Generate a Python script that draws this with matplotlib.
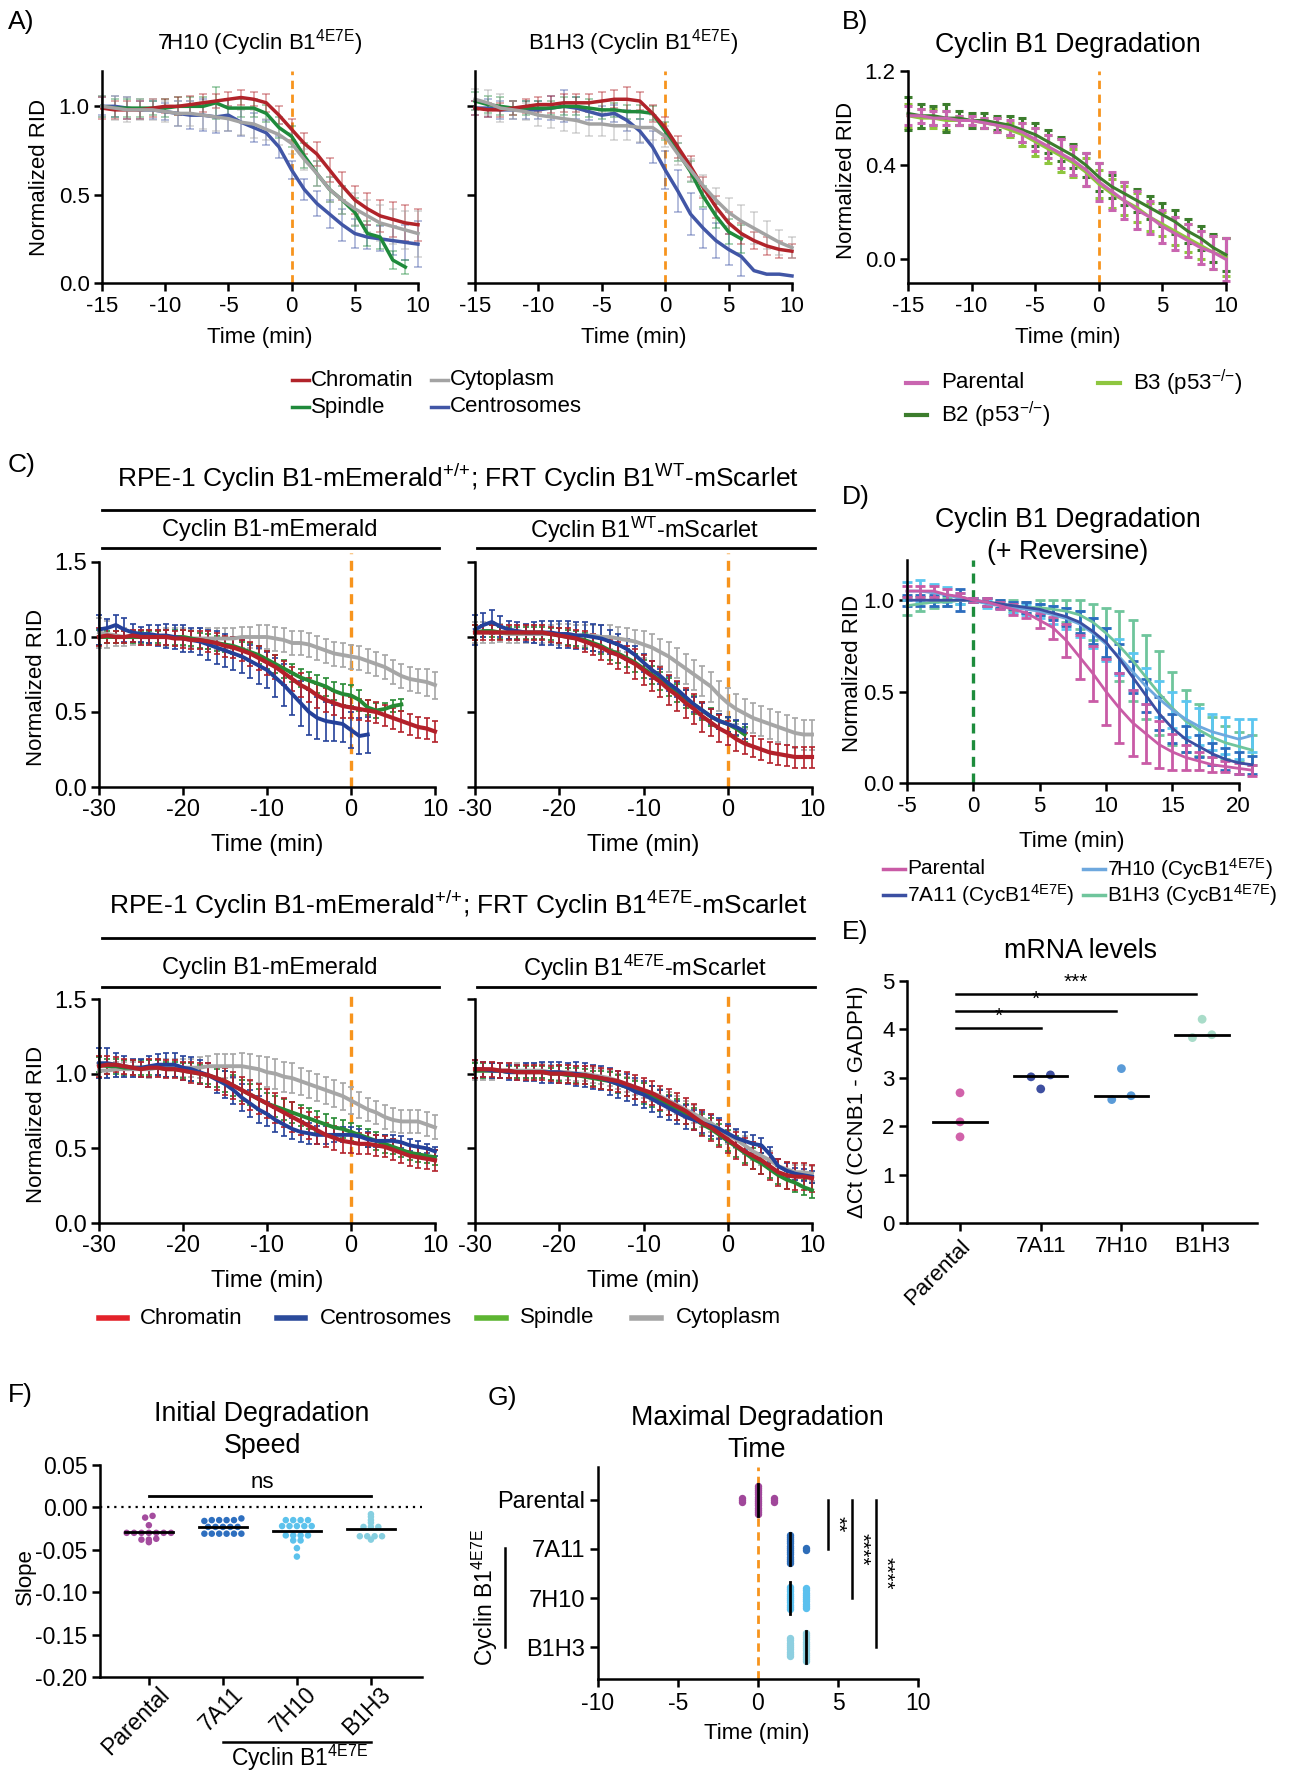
import numpy as np
import matplotlib
matplotlib.use("Agg")
import matplotlib.pyplot as plt
import matplotlib.transforms as mtransforms
from matplotlib.lines import Line2D
from matplotlib import font_manager

nan = np.nan

# ---------------- data ----------------
# A) relative intensity per location, 1 min steps from -15 to 10
tA = np.arange(-15, 11)
a7h10_chrom = [0.99, 0.98, 0.98, 0.98, 0.99, 1.00, 1.00, 1.01, 1.02, 1.03,
               1.04, 1.05, 1.04, 1.02, 0.95, 0.87, 0.79, 0.73, 0.64, 0.55,
               0.47, 0.42, 0.38, 0.36, 0.34, 0.33]
a7h10_spin = [1.00, 0.99, 0.99, 0.99, 0.99, 0.99, 1.00, 1.00, 1.00, 1.02,
              0.99, 0.99, 0.99, 0.96, 0.88, 0.83, 0.72, 0.62, 0.53, 0.47,
              0.40, 0.28, 0.26, 0.13, 0.09, nan]
a7h10_cyto = [1.00, 0.99, 0.98, 0.98, 0.98, 0.97, 0.96, 0.96, 0.95, 0.94,
              0.93, 0.91, 0.90, 0.87, 0.84, 0.79, 0.70, 0.62, 0.53, 0.47,
              0.42, 0.38, 0.34, 0.32, 0.30, 0.28]
a7h10_cent = [1.00, 1.00, 0.99, 0.98, 0.98, 0.97, 0.96, 0.95, 0.95, 0.94,
              0.95, 0.91, 0.88, 0.85, 0.77, 0.64, 0.53, 0.45, 0.39, 0.33,
              0.28, 0.26, 0.25, 0.24, 0.23, 0.22]
a7h10_chrom_e = [0.06, 0.05, 0.05, 0.05, 0.05, 0.04, 0.05, 0.05, 0.05, 0.04,
                 0.04, 0.04, 0.04, 0.05, 0.05, 0.06, 0.06, 0.07, 0.07, 0.08,
                 0.08, 0.09, 0.09, 0.10, 0.10, 0.09]
a7h10_spin_e = [0.06, 0.05, 0.05, 0.05, 0.04, 0.05, 0.05, 0.05, 0.05, 0.09,
                0.05, 0.05, 0.05, 0.05, 0.06, 0.06, 0.07, 0.07, 0.07, 0.08,
                0.08, 0.07, 0.07, 0.05, 0.04, nan]
a7h10_cyto_e = [0.06, 0.07, 0.07, 0.06, 0.06, 0.06, 0.07, 0.07, 0.08, 0.08,
                0.07, 0.07, 0.08, 0.06, 0.06, 0.06, 0.06, 0.07, 0.07, 0.08,
                0.09, 0.09, 0.10, 0.10, 0.11, 0.13]
a7h10_cent_e = [0.05, 0.06, 0.06, 0.05, 0.05, 0.05, 0.07, 0.08, 0.09, 0.09,
                0.09, 0.08, 0.08, 0.07, 0.06, 0.05, 0.06, 0.07, 0.08, 0.09,
                0.08, 0.07, 0.07, 0.08, 0.10, 0.13]

ab1h3_chrom = [0.99, 0.98, 0.98, 0.99, 1.00, 1.01, 1.01, 1.02, 1.02, 1.02,
               1.03, 1.04, 1.04, 1.03, 0.96, 0.88, 0.77, 0.66, 0.54, 0.43,
               0.34, 0.28, 0.24, 0.21, 0.19, 0.18]
ab1h3_spin = [1.03, 1.01, 1.00, 0.99, 0.99, 0.99, 0.99, 1.00, 1.00, 0.99,
              0.98, 0.98, 0.97, 0.97, 0.96, 0.86, 0.74, 0.63, 0.49, 0.38,
              0.29, 0.25, nan, nan, nan, nan]
ab1h3_cyto = [1.04, 1.02, 0.99, 0.98, 0.97, 0.95, 0.94, 0.93, 0.92, 0.90,
              0.90, 0.89, 0.89, 0.88, 0.88, 0.83, 0.73, 0.64, 0.55, 0.47,
              0.40, 0.35, 0.31, 0.27, 0.23, 0.20]
ab1h3_cent = [0.99, 0.99, 0.98, 0.98, 0.98, 0.98, 0.99, 1.00, 0.99, 0.97,
              0.95, 0.96, 0.92, 0.86, 0.77, 0.64, 0.52, 0.39, 0.31, 0.24,
              0.19, 0.15, 0.07, 0.05, 0.05, 0.04]
ab1h3_chrom_e = [0.04, 0.04, 0.04, 0.04, 0.04, 0.04, 0.05, 0.05, 0.05, 0.05,
                 0.05, 0.05, 0.07, 0.05, 0.05, 0.06, 0.06, 0.06, 0.06, 0.06,
                 0.06, 0.06, 0.05, 0.05, 0.05, 0.04]
ab1h3_spin_e = [0.05, 0.05, 0.05, 0.04, 0.04, 0.04, 0.04, 0.05, 0.05, 0.05,
                0.05, 0.04, 0.04, 0.04, 0.04, 0.05, 0.05, 0.06, 0.06, 0.07,
                0.07, 0.08, nan, nan, nan, nan]
ab1h3_cyto_e = [0.06, 0.07, 0.08, 0.05, 0.05, 0.06, 0.06, 0.07, 0.07, 0.07,
                0.07, 0.08, 0.08, 0.08, 0.07, 0.06, 0.06, 0.06, 0.06, 0.07,
                0.08, 0.09, 0.09, 0.08, 0.07, 0.06]
ab1h3_cent_e = [0.04, 0.05, 0.05, 0.05, 0.05, 0.05, 0.07, 0.09, 0.06, 0.05,
                0.05, 0.05, 0.06, 0.07, 0.09, 0.11, 0.12, 0.12, 0.11, 0.10,
                0.09, 0.11, nan, nan, nan, nan]

# B) whole-cell degradation, parental vs p53-/- clones
tB = np.arange(-15, 11)
b_parental = [0.61, 0.61, 0.60, 0.60, 0.59, 0.59, 0.58, 0.57, 0.56, 0.54,
              0.51, 0.48, 0.45, 0.42, 0.38, 0.33, 0.29, 0.25, 0.21, 0.18,
              0.14, 0.11, 0.08, 0.05, 0.03, 0.00]
b_b2 = [0.62, 0.61, 0.61, 0.60, 0.60, 0.59, 0.59, 0.58, 0.57, 0.55,
        0.53, 0.50, 0.47, 0.44, 0.40, 0.35, 0.31, 0.28, 0.25, 0.22,
        0.19, 0.16, 0.12, 0.09, 0.05, 0.02]
b_b3 = [0.61, 0.60, 0.60, 0.59, 0.59, 0.59, 0.58, 0.57, 0.55, 0.53,
        0.50, 0.47, 0.44, 0.41, 0.37, 0.32, 0.28, 0.25, 0.22, 0.18,
        0.15, 0.12, 0.09, 0.06, 0.03, 0.01]
b_parental_e = [0.04, 0.03, 0.03, 0.03, 0.02, 0.02, 0.02, 0.03, 0.03, 0.04,
                0.05, 0.05, 0.06, 0.06, 0.07, 0.08, 0.08, 0.08, 0.08, 0.07,
                0.07, 0.07, 0.07, 0.07, 0.07, 0.09]
b_b2_e = [0.07, 0.05, 0.04, 0.06, 0.03, 0.03, 0.03, 0.03, 0.04, 0.05,
          0.05, 0.05, 0.05, 0.05, 0.05, 0.06, 0.05, 0.05, 0.05, 0.05,
          0.05, 0.05, 0.05, 0.05, 0.06, 0.07]
b_b3_e = [0.05, 0.04, 0.04, 0.04, 0.02, 0.02, 0.02, 0.03, 0.03, 0.05,
          0.06, 0.06, 0.07, 0.06, 0.06, 0.06, 0.06, 0.06, 0.06, 0.06,
          0.05, 0.06, 0.06, 0.06, 0.07, 0.08]

# C) mEmerald / mScarlet reporters, 1 min steps from -30 to 10
tC = np.arange(-30, 11)
cwt_em_cyto = [1.03, 1.02, 1.01, 1.00, 1.00, 1.00, 1.00, 1.00, 1.00, 1.00,
               1.00, 0.99, 0.99, 0.99, 0.99, 0.99, 0.99, 1.00, 1.00, 1.00,
               1.00, 0.99, 0.98, 0.96, 0.96, 0.95, 0.93, 0.91, 0.89, 0.88,
               0.87, 0.86, 0.84, 0.82, 0.80, 0.77, 0.74, 0.72, 0.71, 0.70, 0.68]
cwt_em_chrom = [1.00, 1.01, 1.00, 1.00, 1.01, 1.00, 1.00, 1.00, 1.00, 0.99,
                0.99, 0.98, 0.98, 0.97, 0.96, 0.94, 0.93, 0.91, 0.89, 0.86,
                0.83, 0.80, 0.76, 0.72, 0.68, 0.65, 0.61, 0.58, 0.56, 0.54,
                0.53, 0.52, 0.51, 0.50, 0.48, 0.46, 0.44, 0.42, 0.40, 0.39, 0.37]
cwt_em_spin = [1.00, 1.00, 1.00, 1.00, 1.00, 1.00, 1.00, 1.00, 1.00, 1.00,
               1.00, 0.99, 0.98, 0.97, 0.96, 0.95, 0.94, 0.92, 0.90, 0.88,
               0.85, 0.82, 0.79, 0.76, 0.73, 0.71, 0.69, 0.67, 0.64, 0.62,
               0.61, 0.58, 0.53, 0.51, 0.52, 0.54, 0.55, nan, nan, nan, nan]
cwt_em_cent = [1.05, 1.06, 1.08, 1.05, 1.03, 1.02, 1.02, 1.01, 1.01, 1.00,
               0.99, 0.98, 0.97, 0.95, 0.93, 0.91, 0.89, 0.87, 0.84, 0.81,
               0.78, 0.73, 0.68, 0.62, 0.56, 0.50, 0.46, 0.44, 0.43, 0.42,
               0.38, 0.34, 0.35, nan, nan, nan, nan, nan, nan, nan, nan]
cwt_em_cyto_e = [0.10, 0.09, 0.07, 0.06, 0.05, 0.05, 0.05, 0.05, 0.06, 0.06,
                 0.06, 0.06, 0.07, 0.07, 0.07, 0.07, 0.07, 0.07, 0.07, 0.08,
                 0.08, 0.08, 0.08, 0.08, 0.08, 0.08, 0.08, 0.08, 0.08, 0.08,
                 0.08, 0.08, 0.08, 0.08, 0.08, 0.08, 0.08, 0.08, 0.08, 0.09, 0.09]
cwt_em_chrom_e = [0.06, 0.05, 0.04, 0.04, 0.04, 0.05, 0.05, 0.05, 0.05, 0.05,
                  0.06, 0.06, 0.06, 0.07, 0.07, 0.07, 0.07, 0.07, 0.08, 0.08,
                  0.08, 0.08, 0.08, 0.08, 0.08, 0.08, 0.08, 0.08, 0.08, 0.08,
                  0.07, 0.07, 0.07, 0.07, 0.07, 0.07, 0.07, 0.07, 0.07, 0.07, 0.07]
cwt_em_spin_e = [0.05, 0.04, 0.04, 0.04, 0.04, 0.04, 0.04, 0.04, 0.05, 0.05,
                 0.05, 0.05, 0.05, 0.05, 0.05, 0.05, 0.05, 0.05, 0.06, 0.06,
                 0.06, 0.06, 0.06, 0.06, 0.06, 0.06, 0.06, 0.06, 0.06, 0.07,
                 0.07, 0.07, 0.05, 0.05, 0.04, 0.04, 0.04, nan, nan, nan, nan]
cwt_em_cent_e = [0.10, 0.06, 0.07, 0.08, 0.06, 0.05, 0.06, 0.07, 0.08, 0.08,
                 0.09, 0.08, 0.09, 0.10, 0.11, 0.11, 0.11, 0.11, 0.11, 0.12,
                 0.12, 0.13, 0.14, 0.14, 0.15, 0.15, 0.14, 0.13, 0.12, 0.12,
                 0.12, 0.12, 0.12, nan, nan, nan, nan, nan, nan, nan, nan]

cwt_sc_cyto = [1.03, 1.03, 1.03, 1.03, 1.02, 1.02, 1.02, 1.02, 1.02, 1.02,
               1.02, 1.02, 1.01, 1.01, 1.01, 1.00, 1.00, 0.99, 0.98, 0.97,
               0.95, 0.93, 0.90, 0.87, 0.83, 0.79, 0.75, 0.71, 0.67, 0.61,
               0.56, 0.52, 0.49, 0.46, 0.44, 0.42, 0.40, 0.38, 0.36, 0.35, 0.35]
cwt_sc_chrom = [1.03, 1.03, 1.03, 1.03, 1.03, 1.03, 1.03, 1.03, 1.03, 1.02,
                1.01, 1.00, 0.99, 0.97, 0.95, 0.93, 0.90, 0.88, 0.85, 0.82,
                0.78, 0.74, 0.70, 0.65, 0.61, 0.56, 0.52, 0.47, 0.43, 0.39,
                0.36, 0.32, 0.29, 0.27, 0.25, 0.23, 0.22, 0.21, 0.20, 0.20, 0.20]
cwt_sc_spin = [1.03, 1.04, 1.04, 1.03, 1.03, 1.03, 1.03, 1.03, 1.03, 1.02,
               1.01, 1.00, 0.99, 0.98, 0.96, 0.94, 0.91, 0.89, 0.86, 0.83,
               0.79, 0.75, 0.71, 0.67, 0.63, 0.59, 0.55, 0.51, 0.47, 0.44,
               0.42, 0.39, 0.35, nan, nan, nan, nan, nan, nan, nan, nan]
cwt_sc_cent = [1.05, 1.08, 1.10, 1.07, 1.05, 1.04, 1.03, 1.03, 1.03, 1.03,
               1.02, 1.02, 1.01, 1.01, 1.00, 0.99, 0.97, 0.95, 0.92, 0.88,
               0.83, 0.78, 0.74, 0.69, 0.65, 0.60, 0.55, 0.51, 0.47, 0.44,
               0.42, 0.40, 0.37, nan, nan, nan, nan, nan, nan, nan, nan]
cwt_sc_cyto_e = [0.07, 0.07, 0.07, 0.06, 0.06, 0.06, 0.06, 0.06, 0.06, 0.06,
                 0.07, 0.07, 0.07, 0.07, 0.07, 0.08, 0.08, 0.08, 0.08, 0.08,
                 0.09, 0.09, 0.09, 0.10, 0.10, 0.10, 0.10, 0.10, 0.10, 0.10,
                 0.10, 0.10, 0.10, 0.10, 0.10, 0.10, 0.10, 0.10, 0.10, 0.10, 0.10]
cwt_sc_chrom_e = [0.05, 0.05, 0.05, 0.05, 0.05, 0.05, 0.05, 0.05, 0.05, 0.05,
                  0.05, 0.06, 0.06, 0.07, 0.07, 0.08, 0.08, 0.09, 0.09, 0.10,
                  0.10, 0.10, 0.10, 0.10, 0.10, 0.10, 0.10, 0.10, 0.09, 0.09,
                  0.08, 0.08, 0.07, 0.07, 0.07, 0.07, 0.07, 0.07, 0.07, 0.07, 0.07]
cwt_sc_spin_e = [0.05, 0.04, 0.04, 0.04, 0.04, 0.04, 0.04, 0.04, 0.04, 0.04,
                 0.05, 0.05, 0.05, 0.05, 0.05, 0.05, 0.06, 0.06, 0.06, 0.06,
                 0.06, 0.06, 0.06, 0.06, 0.06, 0.06, 0.06, 0.06, 0.06, 0.05,
                 0.05, 0.05, 0.05, nan, nan, nan, nan, nan, nan, nan, nan]
cwt_sc_cent_e = [0.10, 0.08, 0.08, 0.07, 0.06, 0.06, 0.06, 0.07, 0.08, 0.08,
                 0.09, 0.09, 0.09, 0.09, 0.09, 0.09, 0.08, 0.07, 0.07, 0.06,
                 0.06, 0.06, 0.05, 0.05, 0.05, 0.05, 0.05, 0.05, 0.05, 0.05,
                 0.05, 0.05, 0.05, nan, nan, nan, nan, nan, nan, nan, nan]

cmut_em_cyto = [1.02, 1.02, 1.03, 1.03, 1.03, 1.03, 1.03, 1.04, 1.04, 1.04,
                1.04, 1.04, 1.04, 1.05, 1.05, 1.05, 1.05, 1.05, 1.04, 1.03,
                1.01, 1.00, 0.98, 0.97, 0.95, 0.93, 0.91, 0.89, 0.87, 0.85,
                0.82, 0.79, 0.76, 0.74, 0.71, 0.69, 0.68, 0.68, 0.68, 0.66, 0.64]
cmut_em_chrom = [1.05, 1.06, 1.06, 1.05, 1.04, 1.03, 1.04, 1.04, 1.03, 1.03,
                 1.02, 1.01, 1.00, 0.99, 0.97, 0.95, 0.92, 0.89, 0.86, 0.83,
                 0.80, 0.77, 0.74, 0.71, 0.68, 0.65, 0.62, 0.59, 0.57, 0.55,
                 0.54, 0.53, 0.53, 0.52, 0.51, 0.49, 0.47, 0.45, 0.44, 0.43, 0.42]
cmut_em_cent = [1.07, 1.07, 1.06, 1.05, 1.04, 1.04, 1.05, 1.06, 1.06, 1.06,
                1.04, 1.03, 1.01, 0.99, 0.96, 0.93, 0.89, 0.84, 0.80, 0.76,
                0.73, 0.69, 0.66, 0.63, 0.61, 0.60, 0.59, 0.59, 0.59, 0.59,
                0.59, 0.58, 0.56, 0.55, 0.55, 0.55, 0.54, 0.52, 0.51, 0.50, 0.48]
cmut_em_spin = [1.06, 1.05, 1.05, 1.04, 1.04, 1.04, 1.04, 1.04, 1.03, 1.03,
                1.02, 1.01, 1.00, 0.99, 0.97, 0.95, 0.92, 0.89, 0.86, 0.83,
                0.80, 0.78, 0.76, 0.74, 0.72, 0.70, 0.68, 0.66, 0.64, 0.63,
                0.61, 0.59, 0.57, 0.55, 0.53, 0.51, 0.49, 0.47, 0.46, 0.45, 0.44]
cmut_em_cyto_e = [0.05, 0.05, 0.05, 0.05, 0.05, 0.05, 0.06, 0.06, 0.06, 0.06,
                  0.06, 0.06, 0.07, 0.07, 0.08, 0.08, 0.08, 0.09, 0.09, 0.09,
                  0.10, 0.10, 0.10, 0.10, 0.09, 0.09, 0.09, 0.09, 0.09, 0.09,
                  0.09, 0.09, 0.08, 0.08, 0.08, 0.08, 0.08, 0.08, 0.08, 0.08, 0.08]
cmut_em_chrom_e = [0.07, 0.06, 0.05, 0.05, 0.05, 0.05, 0.06, 0.06, 0.06, 0.06,
                   0.06, 0.07, 0.07, 0.08, 0.08, 0.09, 0.09, 0.09, 0.10, 0.10,
                   0.10, 0.10, 0.10, 0.10, 0.09, 0.09, 0.09, 0.08, 0.08, 0.08,
                   0.07, 0.07, 0.07, 0.07, 0.07, 0.07, 0.07, 0.07, 0.07, 0.07, 0.07]
cmut_em_cent_e = [0.10, 0.10, 0.08, 0.07, 0.06, 0.06, 0.07, 0.07, 0.08, 0.08,
                  0.08, 0.08, 0.08, 0.08, 0.09, 0.09, 0.09, 0.09, 0.09, 0.09,
                  0.08, 0.08, 0.08, 0.07, 0.07, 0.07, 0.06, 0.06, 0.05, 0.05,
                  0.05, 0.05, 0.05, 0.04, 0.04, 0.04, 0.04, 0.04, 0.04, 0.03, 0.03]
cmut_em_spin_e = [0.05, 0.05, 0.05, 0.05, 0.05, 0.05, 0.05, 0.05, 0.05, 0.05,
                  0.05, 0.06, 0.06, 0.06, 0.06, 0.07, 0.07, 0.07, 0.07, 0.07,
                  0.07, 0.07, 0.07, 0.07, 0.07, 0.07, 0.07, 0.07, 0.06, 0.06,
                  0.06, 0.06, 0.06, 0.06, 0.06, 0.05, 0.05, 0.05, 0.05, 0.05, 0.05]

cmut_sc_chrom = [1.03, 1.03, 1.03, 1.02, 1.02, 1.01, 1.01, 1.01, 1.01, 1.00,
                 1.00, 1.00, 0.99, 0.99, 0.98, 0.97, 0.96, 0.95, 0.93, 0.91,
                 0.89, 0.87, 0.84, 0.81, 0.78, 0.75, 0.71, 0.67, 0.64, 0.60,
                 0.56, 0.52, 0.48, 0.45, 0.42, 0.38, 0.34, 0.32, 0.31, 0.31, 0.30]
cmut_sc_spin = [1.02, 1.02, 1.02, 1.02, 1.01, 1.01, 1.01, 1.01, 1.01, 1.00,
                1.00, 0.99, 0.99, 0.98, 0.97, 0.96, 0.95, 0.93, 0.91, 0.89,
                0.87, 0.85, 0.82, 0.79, 0.76, 0.73, 0.70, 0.66, 0.63, 0.59,
                0.55, 0.51, 0.47, 0.43, 0.40, 0.36, 0.32, 0.29, 0.27, 0.24, 0.22]
cmut_sc_cent = [1.03, 1.03, 1.02, 1.02, 1.01, 1.01, 1.01, 1.01, 1.01, 1.01,
                1.01, 1.00, 1.00, 0.99, 0.98, 0.97, 0.95, 0.93, 0.91, 0.88,
                0.86, 0.83, 0.80, 0.77, 0.74, 0.71, 0.69, 0.67, 0.65, 0.63,
                0.60, 0.57, 0.55, 0.53, 0.52, 0.46, 0.38, 0.35, 0.33, 0.32, 0.31]
cmut_sc_cyto = [1.02, 1.02, 1.02, 1.02, 1.02, 1.02, 1.02, 1.02, 1.02, 1.01,
                1.01, 1.01, 1.00, 1.00, 0.99, 0.98, 0.97, 0.95, 0.93, 0.91,
                0.89, 0.87, 0.85, 0.82, 0.79, 0.76, 0.73, 0.70, 0.67, 0.63,
                0.59, 0.56, 0.52, 0.48, 0.45, 0.42, 0.38, 0.36, 0.34, 0.34, 0.33]
cmut_sc_chrom_e = [0.06, 0.05, 0.05, 0.05, 0.05, 0.05, 0.05, 0.05, 0.05, 0.05,
                   0.06, 0.06, 0.06, 0.06, 0.07, 0.07, 0.07, 0.07, 0.08, 0.08,
                   0.08, 0.08, 0.08, 0.09, 0.09, 0.09, 0.09, 0.09, 0.09, 0.09,
                   0.09, 0.09, 0.09, 0.09, 0.09, 0.09, 0.09, 0.09, 0.09, 0.09, 0.09]
cmut_sc_spin_e = [0.05, 0.05, 0.05, 0.05, 0.04, 0.04, 0.04, 0.04, 0.04, 0.04,
                  0.05, 0.05, 0.05, 0.05, 0.05, 0.06, 0.06, 0.06, 0.06, 0.06,
                  0.07, 0.07, 0.07, 0.07, 0.07, 0.07, 0.07, 0.07, 0.07, 0.07,
                  0.07, 0.07, 0.07, 0.07, 0.07, 0.06, 0.06, 0.06, 0.06, 0.05, 0.05]
cmut_sc_cent_e = [0.06, 0.05, 0.05, 0.05, 0.05, 0.05, 0.06, 0.06, 0.07, 0.07,
                  0.07, 0.07, 0.08, 0.08, 0.08, 0.08, 0.09, 0.09, 0.09, 0.09,
                  0.09, 0.09, 0.09, 0.08, 0.08, 0.08, 0.07, 0.07, 0.07, 0.07,
                  0.06, 0.06, 0.06, 0.06, 0.05, 0.05, 0.05, 0.05, 0.04, 0.04, 0.04]
cmut_sc_cyto_e = [0.06, 0.06, 0.06, 0.05, 0.05, 0.05, 0.05, 0.05, 0.05, 0.05,
                  0.05, 0.05, 0.05, 0.05, 0.05, 0.05, 0.05, 0.05, 0.05, 0.05,
                  0.05, 0.05, 0.05, 0.06, 0.06, 0.06, 0.06, 0.06, 0.06, 0.06,
                  0.06, 0.06, 0.06, 0.06, 0.06, 0.06, 0.05, 0.05, 0.05, 0.05, 0.05]

# D) + reversine, 1 min steps from -5 to 21
tD = np.arange(-5, 22)
d_parental = [1.05, 1.05, 1.05, 1.03, 1.02, 1.00, 0.99, 0.97, 0.95, 0.93,
              0.89, 0.85, 0.78, 0.69, 0.60, 0.50, 0.41, 0.33, 0.27, 0.21,
              0.17, 0.14, 0.12, 0.10, 0.09, 0.08, 0.07]
d_parental_e = [0.03, 0.03, 0.03, 0.03, 0.02, 0.01, 0.02, 0.02, 0.03, 0.03,
                0.04, 0.06, 0.09, 0.12, 0.15, 0.18, 0.19, 0.18, 0.16, 0.13,
                0.10, 0.07, 0.05, 0.04, 0.03, 0.03, 0.03]
d_7a11 = [1.00, 1.00, 1.00, 1.00, 1.00, 1.00, 0.99, 0.98, 0.97, 0.96,
          0.95, 0.93, 0.91, 0.88, 0.83, 0.77, 0.68, 0.58, 0.48, 0.38,
          0.30, 0.24, 0.20, 0.16, 0.13, 0.11, 0.10]
d_7a11_e = [0.03, 0.03, 0.03, 0.03, 0.06, 0.01, 0.02, 0.02, 0.02, 0.03,
            0.03, 0.04, 0.05, 0.06, 0.07, 0.08, 0.08, 0.09, 0.09, 0.09,
            0.08, 0.07, 0.06, 0.06, 0.06, 0.06, 0.05]
d_7h10 = [1.05, 1.05, 1.04, 1.03, 1.01, 1.00, 0.98, 0.97, 0.96, 0.95,
          0.94, 0.92, 0.90, 0.87, 0.82, 0.76, 0.69, 0.61, 0.53, 0.46,
          0.40, 0.35, 0.31, 0.28, 0.26, 0.24, 0.26]
d_7h10_e = [0.05, 0.06, 0.05, 0.04, 0.03, 0.01, 0.02, 0.02, 0.03, 0.03,
            0.04, 0.05, 0.06, 0.07, 0.08, 0.09, 0.10, 0.10, 0.10, 0.10,
            0.10, 0.10, 0.10, 0.10, 0.10, 0.11, 0.09]
d_b1h3 = [0.97, 0.98, 0.99, 0.99, 1.00, 1.00, 0.99, 0.98, 0.97, 0.96,
          0.96, 0.95, 0.94, 0.92, 0.88, 0.82, 0.75, 0.67, 0.58, 0.49,
          0.41, 0.34, 0.29, 0.25, 0.22, 0.20, 0.18]
d_b1h3_e = [0.05, 0.04, 0.03, 0.02, 0.02, 0.01, 0.02, 0.02, 0.03, 0.03,
            0.04, 0.05, 0.06, 0.08, 0.10, 0.14, 0.19, 0.22, 0.23, 0.23,
            0.20, 0.17, 0.14, 0.11, 0.09, 0.08, 0.08]

# E) mRNA levels
e_groups = ["Parental", "7A11", "7H10", "B1H3"]
e_parental = [2.69, 2.09, 1.78]
e_7a11 = [3.06, 3.02, 2.77]
e_7h10 = [3.19, 2.55, 2.63]
e_b1h3 = [4.21, 3.83, 3.89]
e_median = [2.09, 3.03, 2.63, 3.89]

# F) initial degradation slope per cell
f_groups = ["Parental", "7A11", "7H10", "B1H3"]
f_parental = [-0.010, -0.012, -0.021, -0.030, -0.030, -0.030, -0.030, -0.030,
              -0.030, -0.030, -0.037, -0.038, -0.038, -0.041]
f_7a11 = [-0.013, -0.015, -0.015, -0.015, -0.015, -0.016, -0.023, -0.023,
          -0.023, -0.023, -0.023, -0.031, -0.031, -0.031, -0.031, -0.031, -0.031]
f_7h10 = [-0.015, -0.015, -0.015, -0.015, -0.022, -0.022, -0.022, -0.022,
          -0.022, -0.033, -0.033, -0.033, -0.033, -0.039, -0.039, -0.048, -0.058]
f_b1h3 = [-0.008, -0.011, -0.015, -0.018, -0.023, -0.023, -0.023, -0.034,
          -0.034, -0.034, -0.034, -0.038]
f_median = [-0.0295, -0.0236, -0.0276, -0.0256]

# G) time of maximal degradation: minute value and number of cells
g_groups = ["Parental", "7A11", "7H10", "B1H3"]
g_parental_t, g_parental_n = [-1, 0, 1], [3, 14, 3]
g_7a11_t, g_7a11_n = [2, 3], [14, 2]
g_7h10_t, g_7h10_n = [2, 3], [11, 10]
g_b1h3_t, g_b1h3_n = [2, 3], [9, 14]
g_median = [0, 2, 2, 3]

# ---------------- style ----------------
W, H = 1291, 1772
plt.rcParams['font.family'] = ['Liberation Sans', 'DejaVu Sans']
plt.rcParams['mathtext.default'] = 'regular'
plt.rcParams['axes.unicode_minus'] = False
plt.rcParams['axes.linewidth'] = 1.8

_names = {f.name for f in font_manager.fontManager.ttflist}
if 'Liberation Sans Narrow' in _names:
    NARROW = ['Liberation Sans Narrow', 'Liberation Sans']
else:
    NARROW = ['Liberation Sans']

TICK = 16
LAB = 16
TITLE = 19.3
PLUS = "$^{\\mathregular{{+}/{+}}}$"
P53 = "$^{\\mathregular{{-}/{-}}}$"
MUT = "$^{\\mathregular{4E7E}}$"

ORANGE = '#f7941d'
A_COL = {'chrom': '#b1232a', 'spin': '#1f8a3b', 'cyto': '#a3a3a3', 'cent': '#4156a6'}
C_COL = {'chrom': '#b3202a', 'spin': '#268a34', 'cyto': '#a6a6a6', 'cent': '#24419a'}
C_LEG = {'chrom': '#e3222a', 'spin': '#5db532', 'cyto': '#a6a6a6', 'cent': '#2b4b9b'}
B_COL = {'par': '#c965b0', 'b2': '#3c7d2d', 'b3': '#8ec63f'}
D_COL = {'par': '#c95ba6', '7a11': '#3b4fa2', '7h10': '#6ea8de', 'b1h3': '#6fc59c'}
D_ECOL = {'par': '#c95ba6', '7a11': '#2c6cbd', '7h10': '#5cc6f0', 'b1h3': '#6fc59c'}
E_COL = ['#d162aa', '#3e4fa0', '#5a9bd8', '#a9dcc9']
F_COL = ['#a44c9e', '#2e6fbf', '#5cc2ec', '#86cfe0']
G_COL = ['#a0479a', '#2e6db8', '#5ac0ee', '#8dcfe0']

fig = plt.figure(figsize=(W / 100, H / 100), dpi=100)


def fx(x):
    return x / W


def fy(y):
    return 1 - y / H


def box(x0, y0, x1, y1):
    # axes placed by pixel box (top-left origin)
    return fig.add_axes([fx(x0), fy(y1), (x1 - x0) / W, (y1 - y0) / H])


def text(x, y, s, size=LAB, ha='center', va='center', **kw):
    return fig.text(fx(x), fy(y), s, size=size, ha=ha, va=va, **kw)


def fig_line(xs, ys, lw=1.8, color='black'):
    fig.add_artist(Line2D([fx(v) for v in xs], [fy(v) for v in ys], lw=lw, color=color))


def legend_item(x0, x1, y, color, label, xt, lw=2.5, size=LAB, family=None):
    fig_line([x0, x1], [y, y], lw=lw, color=color)
    kw = {'family': family} if family else {}
    text(xt, y, label, size=size, ha='left', **kw)


def clean(ax, size=TICK, family=None):
    ax.spines['top'].set_visible(False)
    ax.spines['right'].set_visible(False)
    kw = {'labelfontfamily': family} if family else {}
    ax.tick_params(length=6, width=1.8, labelsize=size, pad=3, **kw)


def trace(ax, t, y, e, color, ecolor=None, lw=2.5, elw=1.2, cap=3.0, ealpha=1.0, z=2):
    t = np.asarray(t, float)
    y = np.asarray(y, float)
    e = np.asarray(e, float)
    cont = ax.errorbar(t, y, yerr=e, fmt='none', ecolor=ecolor or color,
                       elinewidth=elw, capsize=cap, capthick=elw, alpha=ealpha, zorder=z)
    for art in list(cont.lines[1]) + list(cont.lines[2]):
        art.set_clip_on(False)
    ax.plot(t, y, color=color, lw=lw, zorder=z + 0.5, clip_on=False)


def swarm(vals, tol, step):
    vals = np.asarray(vals, float)
    order = np.argsort(vals)
    offs = np.zeros(len(vals))
    groups, cur = [], [order[0]]
    for i in order[1:]:
        if vals[i] - vals[cur[-1]] <= tol:
            cur.append(i)
        else:
            groups.append(cur)
            cur = [i]
    groups.append(cur)
    for g in groups:
        offs[g] = (np.arange(len(g)) - (len(g) - 1) / 2) * step
    return offs


# ---------------- A ----------------
text(8, 22, "A)", size=19, ha='left')
panels_A = [
    ((102, 71, 418, 283), "7H10 (Cyclin B1" + MUT + ")",
     (a7h10_chrom, a7h10_spin, a7h10_cyto, a7h10_cent),
     (a7h10_chrom_e, a7h10_spin_e, a7h10_cyto_e, a7h10_cent_e)),
    ((475, 71, 792, 283), "B1H3 (Cyclin B1" + MUT + ")",
     (ab1h3_chrom, ab1h3_spin, ab1h3_cyto, ab1h3_cent),
     (ab1h3_chrom_e, ab1h3_spin_e, ab1h3_cyto_e, ab1h3_cent_e)),
]
for k, (bx, title, ys, es) in enumerate(panels_A):
    ax = box(*bx)
    clean(ax)
    ax.set_xlim(-15, 10)
    ax.set_ylim(0, 1.2)
    ax.set_xticks([-15, -10, -5, 0, 5, 10])
    ax.set_yticks([0, 0.5, 1.0], ["0.0", "0.5", "1.0"] if k == 0 else ["", "", ""])
    ax.axvline(0, color=ORANGE, lw=2, ls=(0, (3, 2)), zorder=1)
    chrom, spin, cyto, cent = ys
    chrom_e, spin_e, cyto_e, cent_e = es
    trace(ax, tA, cent, cent_e, A_COL['cent'], ealpha=0.45, elw=1.2, cap=3.2)
    trace(ax, tA, spin, spin_e, A_COL['spin'], ealpha=0.45, elw=1.2, cap=3.2)
    trace(ax, tA, chrom, chrom_e, A_COL['chrom'], ealpha=0.45, elw=1.2, cap=3.2)
    trace(ax, tA, cyto, cyto_e, A_COL['cyto'], ealpha=0.45, elw=1.2, cap=3.2)
    cx = (bx[0] + bx[2]) / 2
    text(cx, 43, title, size=16)
    text(cx, 337, "Time (min)")
text(40, 177, "Normalized RID", rotation=90)
legend_item(292, 309, 380, A_COL['chrom'], "Chromatin", 311)
legend_item(292, 309, 407, A_COL['spin'], "Spindle", 311)
legend_item(431, 448, 380, A_COL['cyto'], "Cytoplasm", 450)
legend_item(431, 448, 407, A_COL['cent'], "Centrosomes", 450)

# ---------------- B ----------------
text(842, 22, "B)", size=19, ha='left')
axB = box(908, 71, 1226, 283)
clean(axB)
axB.set_xlim(-15, 10)
axB.set_ylim(-0.1, 0.8)
axB.set_xticks([-15, -10, -5, 0, 5, 10])
axB.set_yticks([0, 0.4, 0.8], ["0.0", "0.4", "1.2"])
axB.axvline(0, color=ORANGE, lw=2, ls=(0, (3, 2)), zorder=1)
trace(axB, tB, b_b3, b_b3_e, B_COL['b3'], lw=2.2, elw=2.2, cap=2.6)
trace(axB, tB, b_b2, b_b2_e, B_COL['b2'], lw=2.2, elw=2.2, cap=2.6)
trace(axB, tB, b_parental, b_parental_e, B_COL['par'], lw=2.2, elw=2.2, cap=2.6)
text(1068, 45, "Cyclin B1 Degradation", size=TITLE)
text(847, 180, "Normalized RID", rotation=90)
text(1068, 337, "Time (min)")
legend_item(906, 927, 383, B_COL['par'], "Parental", 941, lw=3)
legend_item(906, 927, 415, B_COL['b2'], "B2 (p53" + P53 + ")", 941, lw=3)
legend_item(1098, 1120, 383, B_COL['b3'], "B3 (p53" + P53 + ")", 1133, lw=3)

# ---------------- C ----------------
text(8, 465, "C)", size=19, ha='left')
c_rows = [
    (478, 510, 530, 548, 562, 787,
     "RPE-1 Cyclin B1-mEmerald" + PLUS + "; FRT Cyclin B1$^{\\mathregular{WT}}$-mScarlet",
     "Cyclin B1$^{\\mathregular{WT}}$-mScarlet",
     [(cwt_em_cyto, cwt_em_cyto_e, cwt_em_spin, cwt_em_spin_e, cwt_em_cent, cwt_em_cent_e,
       cwt_em_chrom, cwt_em_chrom_e),
      (cwt_sc_cyto, cwt_sc_cyto_e, cwt_sc_spin, cwt_sc_spin_e, cwt_sc_cent, cwt_sc_cent_e,
       cwt_sc_chrom, cwt_sc_chrom_e)]),
    (905, 938, 968, 987, 999, 1223,
     "RPE-1 Cyclin B1-mEmerald" + PLUS + "; FRT Cyclin B1" + MUT + "-mScarlet",
     "Cyclin B1" + MUT + "-mScarlet",
     [(cmut_em_cyto, cmut_em_cyto_e, cmut_em_spin, cmut_em_spin_e, cmut_em_cent, cmut_em_cent_e,
       cmut_em_chrom, cmut_em_chrom_e),
      (cmut_sc_cyto, cmut_sc_cyto_e, cmut_sc_spin, cmut_sc_spin_e, cmut_sc_cent, cmut_sc_cent_e,
       cmut_sc_chrom, cmut_sc_chrom_e)]),
]
for (ty, tly, sy, sly, ay0, ay1, title, sub2, sets) in c_rows:
    text(458, ty, title, size=19, family=NARROW)
    fig_line([102, 814], [tly, tly], lw=2)
    text(270, sy, "Cyclin B1-mEmerald", size=17, family=NARROW)
    text(645, sy, sub2, size=17, family=NARROW)
    fig_line([102, 439], [sly, sly], lw=2)
    fig_line([477, 815], [sly, sly], lw=2)
    for k, (xb0, xb1) in enumerate([(99, 435), (475, 812)]):
        ax = box(xb0, ay0, xb1, ay1)
        clean(ax, size=17, family=NARROW)
        ax.set_xlim(-30, 10)
        ax.set_ylim(0, 1.5)
        ax.set_xticks([-30, -20, -10, 0, 10])
        ax.set_yticks([0, 0.5, 1.0, 1.5],
                      ["0.0", "0.5", "1.0", "1.5"] if k == 0 else ["", "", "", ""])
        ax.plot([0, 0], [0, 1.56], color=ORANGE, lw=2.4, ls=(0, (3, 2)), zorder=1, clip_on=False)
        cyto, cyto_e, spin, spin_e, cent, cent_e, chrom, chrom_e = sets[k]
        trace(ax, tC, cyto, cyto_e, C_COL['cyto'], lw=2.8, elw=1.2, cap=2.0)
        trace(ax, tC, spin, spin_e, C_COL['spin'], lw=2.8, elw=1.2, cap=2.0)
        trace(ax, tC, cent, cent_e, C_COL['cent'], lw=2.8, elw=1.2, cap=2.0)
        trace(ax, tC, chrom, chrom_e, C_COL['chrom'], lw=3.0, elw=1.2, cap=2.0)
        text((xb0 + xb1) / 2, ay1 + 58, "Time (min)", size=17, family=NARROW)
    text(37, (ay0 + ay1) / 2 + 13, "Normalized RID", rotation=90)
legend_item(99, 127, 1318, C_LEG['chrom'], "Chromatin", 140, lw=4, size=16, family=NARROW)
legend_item(277, 305, 1318, C_LEG['cent'], "Centrosomes", 320, lw=4, size=16, family=NARROW)
legend_item(477, 506, 1318, C_LEG['spin'], "Spindle", 520, lw=4, size=16, family=NARROW)
legend_item(632, 661, 1318, C_LEG['cyto'], "Cytoplasm", 676, lw=4, size=16, family=NARROW)

# ---------------- D ----------------
text(842, 497, "D)", size=19, ha='left')
axD = box(907, 560, 1252, 783)
clean(axD)
axD.set_xlim(-5, 21)
axD.set_ylim(0, 1.22)
axD.spines['bottom'].set_bounds(-5, 20)
axD.set_xticks([-5, 0, 5, 10, 15, 20])
axD.set_yticks([0, 0.5, 1.0], ["0.0", "0.5", "1.0"])
axD.axvline(0, color='#1d8c3c', lw=2.4, ls=(0, (3, 2)), zorder=1)
trace(axD, tD, d_b1h3, d_b1h3_e, D_COL['b1h3'], D_ECOL['b1h3'], lw=2.0, elw=2.0, cap=3.6)
trace(axD, tD, d_7h10, d_7h10_e, D_COL['7h10'], D_ECOL['7h10'], lw=2.0, elw=2.0, cap=3.6)
trace(axD, tD, d_7a11, d_7a11_e, D_COL['7a11'], D_ECOL['7a11'], lw=2.0, elw=2.0, cap=3.6)
trace(axD, tD, d_parental, d_parental_e, D_COL['par'], lw=2.0, elw=2.0, cap=3.6)
text(1068, 520, "Cyclin B1 Degradation", size=TITLE)
text(1068, 552, "(+ Reversine)", size=TITLE)
text(852, 673, "Normalized RID", rotation=90)
text(1072, 842, "Time (min)")
legend_item(883, 905, 869, D_COL['par'], "Parental", 907, lw=2.5, size=15)
legend_item(883, 905, 895, D_COL['7a11'], "7A11 (CycB1" + MUT + ")", 907, lw=2.5, size=15)
legend_item(1083, 1105, 869, D_COL['7h10'], "7H10 (CycB1" + MUT + ")", 1107, lw=2.5, size=15)
legend_item(1083, 1105, 895, D_COL['b1h3'], "B1H3 (CycB1" + MUT + ")", 1107, lw=2.5, size=15)

# ---------------- E ----------------
text(842, 932, "E)", size=19, ha='left')
axE = box(907, 981, 1257, 1223)
clean(axE)
axE.set_xlim(-0.657, 3.68)
axE.set_ylim(0, 5)
axE.set_yticks([0, 1, 2, 3, 4, 5])
axE.set_xticks(range(4), e_groups)
for i, lab in enumerate(axE.get_xticklabels()):
    if i == 0:
        lab.set_rotation(45)
        lab.set_ha('right')
        lab.set_rotation_mode('anchor')
for i, vals in enumerate([e_parental, e_7a11, e_7h10, e_b1h3]):
    off = swarm(vals, 0.15, 0.24)
    axE.scatter(i + off, vals, s=40, color=E_COL[i], edgecolors='none', zorder=3)
    axE.plot([i - 0.33, i + 0.33], [e_median[i]] * 2, color='black', lw=2, zorder=4)
for (x0, x1, yb, star) in [(-0.05, 1.0, 4.03, "*"), (-0.05, 1.93, 4.39, "*"), (-0.05, 2.93, 4.74, "***")]:
    axE.plot([x0, x1], [yb, yb], color='black', lw=1.8, clip_on=False)
    axE.text((x0 + x1) / 2, yb + 0.04, star, ha='center', va='bottom', size=15)
text(1080, 951, "mRNA levels", size=TITLE)
text(858, 1102, "ΔCt (CCNB1 - GADPH)", rotation=90)

# ---------------- F ----------------
text(8, 1395, "F)", size=19, ha='left')
axF = box(100, 1465, 422, 1677)
clean(axF, size=16.5)
axF.set_xlim(-0.66, 3.69)
axF.set_ylim(-0.2, 0.05)
axF.set_yticks([-0.2, -0.15, -0.1, -0.05, 0, 0.05],
               ["-0.20", "-0.15", "-0.10", "-0.05", "0.00", "0.05"])
axF.set_xticks(range(4), f_groups, rotation=45, ha='right', rotation_mode='anchor')
shift = mtransforms.ScaledTranslation(6 / 72, 5 / 72, fig.dpi_scale_trans)
for lab in axF.get_xticklabels():
    lab.set_transform(lab.get_transform() + shift)
axF.axhline(0, color='black', lw=1.6, ls=(0, (1, 2.2)), zorder=1)
for i, vals in enumerate([f_parental, f_7a11, f_7h10, f_b1h3]):
    off = swarm(vals, 0.0025, 0.1)
    axF.scatter(i + off, vals, s=22, color=F_COL[i], edgecolors='none', zorder=3)
    axF.plot([i - 0.32, i + 0.32], [f_median[i]] * 2, color='black', lw=2, zorder=4)
axF.plot([0, 3], [0.0134, 0.0134], color='black', lw=2)
axF.text(1.53, 0.0165, "ns", ha='center', va='bottom', size=16)
text(262, 1414, "Initial Degradation", size=TITLE)
text(262, 1446, "Speed", size=TITLE)
text(25, 1577, "Slope", rotation=90)
fig_line([223, 371], [1742, 1742], lw=1.8)
text(300, 1758, "Cyclin B1" + MUT, size=16.5)

# ---------------- G ----------------
text(488, 1398, "G)", size=19, ha='left')
axG = box(598, 1467, 918, 1679)
clean(axG, size=16.5)
axG.set_xlim(-10, 10)
axG.set_ylim(-0.65, 3.67)
axG.set_xticks([-10, -5, 0, 5, 10])
g_pos = [3, 2, 1, 0]
axG.set_yticks(g_pos, g_groups)
axG.tick_params(axis='y', labelsize=17)
axG.axvline(0, color=ORANGE, lw=2, ls=(0, (3, 2)), zorder=1)
g_sets = [(g_parental_t, g_parental_n), (g_7a11_t, g_7a11_n),
          (g_7h10_t, g_7h10_n), (g_b1h3_t, g_b1h3_n)]
for i, (times, counts) in enumerate(g_sets):
    for tv, n in zip(times, counts):
        offs = (np.arange(n) - (n - 1) / 2) * 0.045
        axG.plot(np.full(n, tv), g_pos[i] + offs, 'o', ms=5.3, color=G_COL[i],
                 mec='none', zorder=3)
    axG.plot([g_median[i]] * 2, [g_pos[i] - 0.33, g_pos[i] + 0.33], color='black', lw=2, zorder=4)
for (xs, y0, y1, star, ty) in [(4.4, 3.0, 2.0, "**", 2.5), (5.9, 3.0, 1.0, "****", 2.0),
                               (7.4, 3.0, 0.0, "****", 1.5)]:
    axG.plot([xs, xs], [y0, y1], color='black', lw=1.8)
    axG.text(xs + 0.55, ty, star, rotation=-90, ha='center', va='center', size=15)
text(757, 1418, "Maximal Degradation", size=TITLE)
text(757, 1450, "Time", size=TITLE)
text(757, 1733, "Time (min)")
text(485, 1597, "Cyclin B1" + MUT, size=16.5, rotation=90)
fig_line([505, 505], [1548, 1647], lw=1.8)

fig.savefig("out.png", dpi=100)
